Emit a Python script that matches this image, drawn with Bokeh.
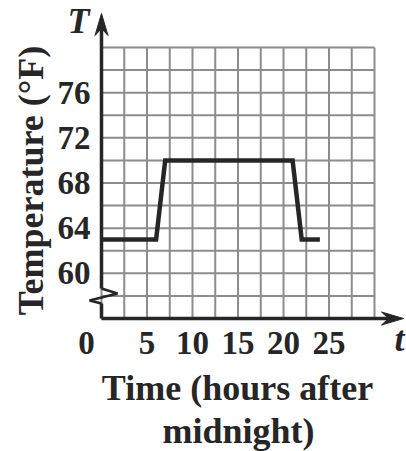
import numpy as np
from bokeh.plotting import figure
from bokeh.models import Range1d
from bokeh.core.properties import value
from bokeh.embed import file_html
from bokeh.resources import INLINE

# ---- data ----
time_h = [0, 6, 7, 21, 22, 24]
temp_f = [63, 63, 70, 70, 63, 63]
x_ticks = [5, 10, 15, 20, 25]
x_tick_labels = ["5", "10", "15", "20", "25"]
origin_label = "0"
y_ticks = [60, 64, 68, 72, 76]
y_tick_labels = ["60", "64", "68", "72", "76"]
x_title_lines = ["Time (hours after", "midnight)"]
y_title = "Temperature (°F)"
x_var = "t"
y_var = "T"

# ---- layout (page pixels -> data) ----
X0, X1, GX = 0, 30, 2.5
Y0, Y1, GY = 56, 80, 2
W, H = 406, 451
OX, OY = 101, 318          # page px of the origin
SX, SY = 9.1, 11.29        # px per hour, px per degree


def dx(px):
    return (px - OX) / SX


def dy(py):
    return Y0 + (OY - py) / SY


FONT = value("Liberation Serif")
INK = "#262626"
GRID = "#8c8c8c"

p = figure(width=W, height=H, output_backend="svg", toolbar_location=None,
           x_range=Range1d(dx(0), dx(W)), y_range=Range1d(dy(H), dy(0)),
           min_border=0, x_axis_type=None, y_axis_type=None)
p.outline_line_color = None
p.xgrid.visible = False
p.ygrid.visible = False
p.background_fill_color = "white"
p.border_fill_color = "white"

# grid
gx = np.arange(X0, X1 + GX / 2, GX)
gy = np.arange(Y0, Y1 + GY / 2, GY)
p.segment(x0=gx, y0=[Y0] * len(gx), x1=gx, y1=[Y1] * len(gx),
          line_color=GRID, line_width=2)
p.segment(x0=[X0] * len(gy), y0=gy, x1=[X1] * len(gy), y1=gy,
          line_color=GRID, line_width=2)

# axis lines, axis break and arrowheads
tip_x, tip_y = dx(403), dy(13)
AL, AN, AW = 22, 15, 6.5
p.line([X0, tip_x - AN / SX], [Y0, Y0], line_color=INK, line_width=3.5)
p.line([X0, X0], [Y0, dy(303)], line_color=INK, line_width=3.5)
p.line([X0, X0], [dy(288), tip_y - AN / SY], line_color=INK, line_width=3.5)
p.line([X0, dx(117), dx(89), X0], [dy(288), dy(293), dy(300), dy(303)],
       line_color=INK, line_width=2.5)
p.patch([tip_x, tip_x - AL / SX, tip_x - AN / SX, tip_x - AL / SX],
        [Y0, Y0 + AW / SY, Y0, Y0 - AW / SY], color=INK)
p.patch([X0, X0 + AW / SX, X0, X0 - AW / SX],
        [tip_y, tip_y - AL / SY, tip_y - AN / SY, tip_y - AL / SY], color=INK)

# data
p.line(time_h, temp_f, line_color=INK, line_width=4.5, line_join="miter")

# tick labels
common = dict(text_font=FONT, text_font_style="bold", text_color=INK)
p.text(x=[dx(90)] * len(y_ticks), y=y_ticks, text=y_tick_labels,
       text_align="right", text_baseline="middle", text_font_size="33px",
       **common)
p.text(x=x_ticks, y=[dy(342)] * len(x_ticks), text=x_tick_labels,
       text_align="center", text_baseline="middle", text_font_size="33px",
       **common)
p.text(x=[dx(86)], y=[dy(342)], text=[origin_label],
       text_align="center", text_baseline="middle", text_font_size="33px",
       **common)

# titles
p.text(x=[dx(237), dx(238)], y=[dy(387), dy(430)], text=x_title_lines,
       text_align="center", text_baseline="middle", text_font_size="36px",
       **common)
p.text(x=[dx(30)], y=[dy(180)], text=[y_title], angle=np.pi / 2,
       text_align="center", text_baseline="middle", text_font_size="36px",
       **common)

# variable names
ital = dict(text_font=FONT, text_font_style="bold italic", text_color=INK,
            text_align="center", text_baseline="middle", text_font_size="36px")
p.text(x=[dx(78)], y=[dy(20)], text=[y_var], **ital)
p.text(x=[dx(399)], y=[dy(338)], text=[x_var], **ital)

open("out.html", "w").write(file_html(p, INLINE))
